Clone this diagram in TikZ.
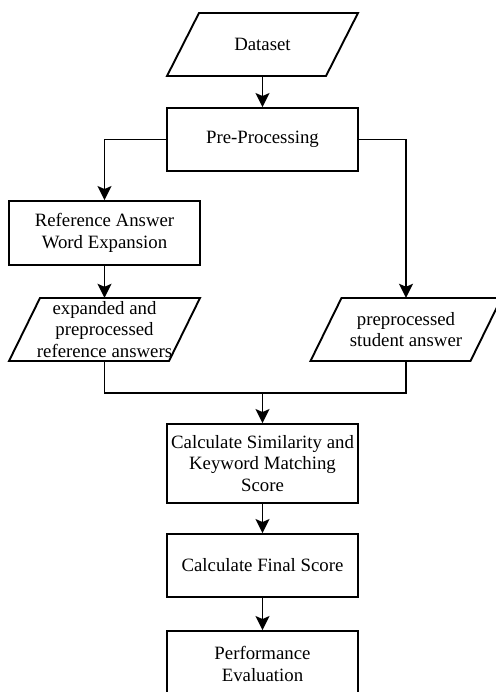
\documentclass[tikz,border=0pt]{standalone}
\usepackage{fontspec}
\setmainfont{Liberation Serif}
\usetikzlibrary{arrows.meta,calc}
\begin{document}
\begin{tikzpicture}[x=1pt,y=-1pt,
  every node/.style={font=\fontsize{18.8}{21.5}\selectfont, align=center, inner sep=0pt},
  boxnode/.style={draw, line width=1.9pt, minimum width=191pt},
  paranode/.style={minimum height=63pt},
  shapeline/.style={line width=1.9pt, line join=miter},
  conn/.style={line width=1.9pt},
  arr/.style={conn, -{Stealth[length=14pt,width=14pt,inset=3pt]}}
]
\useasboundingbox (0,0) rectangle (495,692);

% nodes
\node[paranode] (data) at (262.5,44.5) {Dataset};
\draw[shapeline] (167,76) -- (326,76) -- (358,13) -- (199,13) -- cycle;

\node[boxnode, minimum height=63pt] (pre) at (262.5,139.5) {\raisebox{-2pt}{Pre-Processing}};

\node[boxnode, minimum height=64pt] (ref) at (104.5,233) {Reference Answer\\Word Expansion};

\node[paranode] (exp) at (104.5,329.5) {expanded and\\preprocessed\\reference answers};
\draw[shapeline] (9,361) -- (169,361) -- (200,298) -- (40,298) -- cycle;

\node[paranode] (stu) at (406,329.5) {preprocessed\\student answer};
\draw[shapeline] (310.5,361) -- (470.5,361) -- (501.5,298) -- (341.5,298) -- cycle;

\node[boxnode, minimum height=79pt] (sim) at (262.5,463.5) {Calculate Similarity and\\Keyword Matching\\Score};

\node[boxnode, minimum height=63pt] (fin) at (262.5,565.5) {\raisebox{-2pt}{Calculate Final Score}};

\node[boxnode, minimum height=66pt] (perf) at (262.5,664) {Performance\\Evaluation};

\coordinate (merge) at (262.5,393);

% connectors
\draw[arr] (data.south) -- (pre.north);
\draw[arr] (pre.west) -| (ref.north);
\draw[arr] (pre.east) -| (stu.north);
\draw[arr] (ref.south) -- (exp.north);
\draw[conn] (exp.south) |- (merge);
\draw[conn] (stu.south) |- (merge);
\draw[arr] (merge) -- (sim.north);
\draw[arr] (sim.south) -- (fin.north);
\draw[arr] (fin.south) -- (perf.north);
\end{tikzpicture}
\end{document}
